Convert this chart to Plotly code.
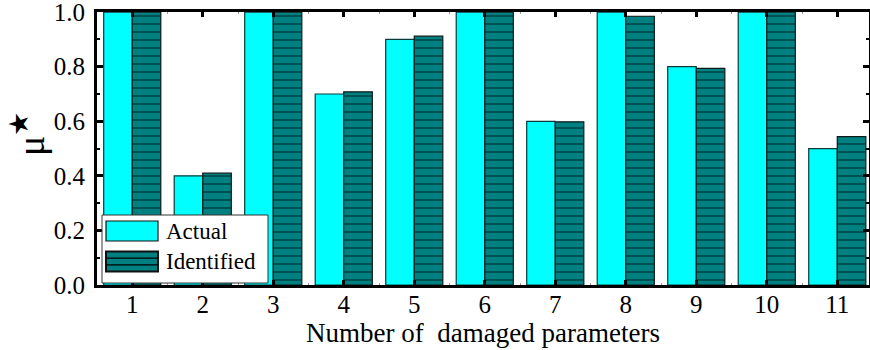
import plotly.graph_objects as go

categories = [1, 2, 3, 4, 5, 6, 7, 8, 9, 10, 11]
actual = [1.0, 0.4, 1.0, 0.7, 0.9, 1.0, 0.6, 1.0, 0.8, 1.0, 0.5]
identified = [1.0, 0.41, 1.0, 0.708, 0.912, 1.0, 0.598, 0.985, 0.794, 1.0, 0.544]
y_ticks = [0.0, 0.2, 0.4, 0.6, 0.8, 1.0]
y_ticklabels = ["0.0", "0.2", "0.4", "0.6", "0.8", "1.0"]
legend_labels = ["Actual", "Identified"]
y_title = "μ<sup>★</sup>"
x_title = "Number of  damaged parameters"

FONT = "Liberation Serif, Times New Roman, serif"
CYAN = "#00FFFF"
TEAL = "#008080"

fig = go.Figure()
fig.add_trace(go.Bar(
    x=categories, y=actual, name=legend_labels[0],
    marker=dict(color=CYAN, line=dict(color="#0a3a3a", width=1.2)),
    offset=-0.405, width=0.405,
))
fig.add_trace(go.Bar(
    x=categories, y=identified, name=legend_labels[1],
    marker=dict(color=TEAL, line=dict(color="#0a1a1a", width=1.2),
                pattern=dict(shape="-", fgcolor="#000000", bgcolor=TEAL,
                             size=8, solidity=0.18)),
    offset=0.0, width=0.405,
))

# custom legend (large swatches like the reference), in paper coordinates
L, T, PW, PH = 97, 12, 772, 273
def px(x):
    return (x - L) / PW
def py(y):
    return (T + PH - y) / PH

shapes = [
    dict(type="rect", xref="paper", yref="paper", x0=px(102), x1=px(268), y0=py(283), y1=py(215),
         fillcolor="white", line=dict(color="#333333", width=1), layer="above"),
    dict(type="rect", xref="paper", yref="paper", x0=px(106), x1=px(158), y0=py(241), y1=py(221),
         fillcolor=CYAN, line=dict(color="#111111", width=1.2), layer="above"),
    dict(type="rect", xref="paper", yref="paper", x0=px(106), x1=px(158), y0=py(271.5), y1=py(251.5),
         fillcolor=TEAL, line=dict(color="#111111", width=2), layer="above"),
]
for yy in (258.2, 264.9):
    shapes.append(dict(type="line", xref="paper", yref="paper", x0=px(106), x1=px(158),
                       y0=py(yy), y1=py(yy), line=dict(color="black", width=1.2), layer="above"))

annotations = [
    dict(text=legend_labels[0], xref="paper", yref="paper", x=px(164), y=py(231),
         xanchor="left", yanchor="middle", showarrow=False, font=dict(family=FONT, size=23)),
    dict(text=legend_labels[1], xref="paper", yref="paper", x=px(164), y=py(261.5),
         xanchor="left", yanchor="middle", showarrow=False, font=dict(family=FONT, size=23)),
    dict(text=y_title, xref="paper", yref="paper", x=px(28), y=py(134), textangle=-90,
         xanchor="center", yanchor="middle", showarrow=False, font=dict(family=FONT, size=38)),
]

fig.update_layout(
    width=870, height=350,
    margin=dict(l=L, r=870 - L - PW, t=T, b=350 - T - PH),
    plot_bgcolor="white", paper_bgcolor="white",
    font=dict(family=FONT, color="black", size=22),
    showlegend=False,
    shapes=shapes, annotations=annotations,
)
fig.update_xaxes(
    range=[0.5, 11.45], tickmode="array", tickvals=categories,
    ticktext=[str(c) for c in categories],
    ticks="inside", ticklen=5, tickwidth=3, tickcolor="black",
    minor=dict(tickmode="array", tickvals=[c + 0.5 for c in categories[:-1]],
               ticks="inside", ticklen=2, tickwidth=1, tickcolor="#999999"),
    showline=True, linewidth=3, linecolor="black", mirror="ticks",
    showgrid=False, zeroline=False, automargin=False,
    tickfont=dict(family=FONT, size=25), ticklabelstandoff=-5,
    title=dict(text=x_title, font=dict(family=FONT, size=27), standoff=0),
)
fig.update_yaxes(
    range=[0, 1.0005], tickmode="array", tickvals=y_ticks, ticktext=y_ticklabels,
    ticks="inside", ticklen=6, tickwidth=3, tickcolor="black",
    minor=dict(dtick=0.1, ticks="inside", ticklen=3, tickwidth=2, tickcolor="black", showgrid=False),
    showline=True, linewidth=3, linecolor="black", mirror="ticks",
    showgrid=False, zeroline=False, automargin=False, ticklabeloverflow="allow",
    tickfont=dict(family=FONT, size=25), ticklabelstandoff=4,
)

fig.write_html("out.html", config={"displayModeBar": False},
               post_script="document.body.style.margin='0';")
